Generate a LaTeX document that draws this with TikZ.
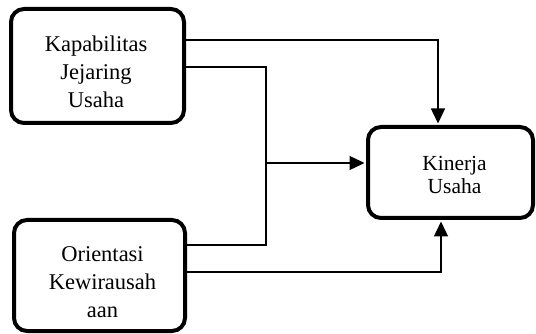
\documentclass[tikz,border=0pt]{standalone}
\usepackage{fontspec}
\setmainfont{Liberation Serif}
\usetikzlibrary{arrows.meta}
\tikzset{
  box/.style={draw, line width=4pt, rounded corners=13pt, inner sep=0pt},
  bigtxt/.style={align=center, font=\fontsize{22.5}{28}\selectfont, inner sep=0pt},
  smalltxt/.style={align=center, font=\fontsize{21.5}{23}\selectfont, inner sep=0pt},
  conn/.style={line width=1.4pt},
  arr/.style={conn, -{Triangle[length=15pt,width=14pt]}, shorten >=1.5pt},
}
\begin{document}
\begin{tikzpicture}[x=1pt,y=-1pt]
\useasboundingbox (0,0) rectangle (536,334);
\node[box, minimum width=173pt, minimum height=114pt] (k1) at (97.5,66) {};
\node[box, minimum width=171pt, minimum height=111pt] (k2) at (99.5,275.5) {};
\node[box, minimum width=165pt, minimum height=91pt] (k3) at (450.5,172.5) {};
\node[bigtxt] (t1) at (96,72) {Kapabilitas\\Jejaring\\Usaha};
\node[bigtxt] (t2) at (102.5,282) {Orientasi\\Kewirausah\\aan};
\node[smalltxt] (t3) at (454.5,175) {Kinerja\\Usaha};
\coordinate (jtop) at (266,67);
\coordinate (jbot) at (266,245);
\coordinate (jmid) at (266,163);
\draw[arr] ([yshift=26pt]k1.east) -| ([xshift=-12.5pt]k3.north);
\draw[arr] ([yshift=3.5pt]k2.east) -| ([xshift=-9.5pt]k3.south);
\draw[conn] ([yshift=-1pt]k1.east) -- (jtop) -- (jbot) -- ([yshift=30.5pt]k2.east);
\draw[arr] (jmid) -- (jmid -| k3.west);
\end{tikzpicture}
\end{document}
